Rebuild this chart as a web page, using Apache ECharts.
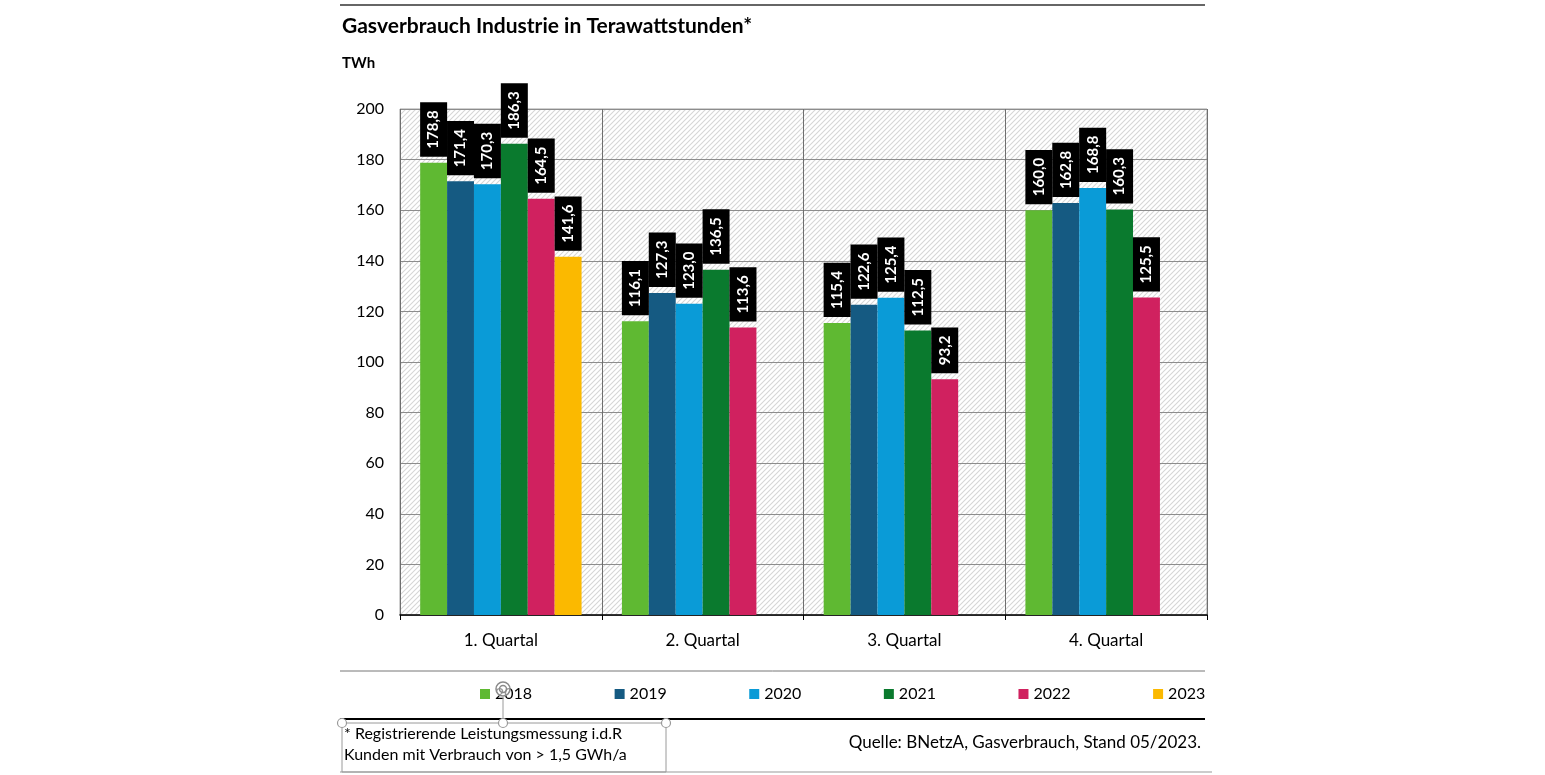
<!DOCTYPE html>
<html><head><meta charset="utf-8">
<script src="https://cdn.jsdelivr.net/npm/echarts@6/dist/echarts.min.js"></script>
<style>html,body{margin:0;padding:0;background:#fff}#c{width:1545px;height:775px}</style>
</head><body><div id="c"></div>
<script>
const categories = ['1. Quartal', '2. Quartal', '3. Quartal', '4. Quartal'];
const years = ['2018', '2019', '2020', '2021', '2022', '2023'];
const v2018 = [178.8, 116.1, 115.4, 160.0];
const v2019 = [171.4, 127.3, 122.6, 162.8];
const v2020 = [170.3, 123.0, 125.4, 168.8];
const v2021 = [186.3, 136.5, 112.5, 160.3];
const v2022 = [164.5, 113.6, 93.2, 125.5];
const v2023 = [141.6, null, null, null];
const yTicks = [0, 20, 40, 60, 80, 100, 120, 140, 160, 180, 200];
const colors = ['#5fb932', '#155a82', '#0a9bd7', '#0a7a2e', '#d0215f', '#fbb900'];
const seriesValues = [v2018, v2019, v2020, v2021, v2022, v2023];

const FONT = 'Lato, "Noto Sans", sans-serif';

// hatch pattern
const pc = document.createElement('canvas');
pc.width = 5; pc.height = 5;
const pctx = pc.getContext('2d');
pctx.fillStyle = '#ffffff'; pctx.fillRect(0, 0, 5, 5);
pctx.strokeStyle = '#d6d6d6'; pctx.lineWidth = 1.1;
pctx.beginPath();
pctx.moveTo(-1, 6); pctx.lineTo(6, -1);
pctx.moveTo(-1, 1); pctx.lineTo(1, -1);
pctx.moveTo(4, 6); pctx.lineTo(6, 4);
pctx.stroke();

const chart = echarts.init(document.getElementById('c'), null, {renderer: 'canvas'});

const series = years.map((y, i) => ({
  name: y,
  type: 'bar',
  data: seriesValues[i],
  itemStyle: {color: colors[i]},
  barGap: '0%',
  barCategoryGap: '20%',
  label: {
    show: true,
    position: 'top',
    distance: 6,
    rotate: 90,
    align: 'left',
    verticalAlign: 'middle',
    color: '#fff',
    backgroundColor: '#000',
    fontFamily: FONT,
    fontWeight: 'bold',
    fontSize: 15,
    lineHeight: 17,
    padding: [5, 8, 5, 8],
    formatter: p => p.value == null ? '' : p.value.toFixed(1).replace('.', ',')
  }
}));

const graphic = [
  {type: 'line', shape: {x1: 340, y1: 5, x2: 1205, y2: 5}, style: {stroke: '#333', lineWidth: 1.5}},
  {type: 'text', left: 342, top: 16, style: {text: 'Gasverbrauch Industrie in Terawattstunden*', font: 'bold 21px ' + FONT, fill: '#000'}},
  {type: 'text', left: 342, top: 56, style: {text: 'TWh', font: 'bold 15px ' + FONT, fill: '#000'}},
  {type: 'line', shape: {x1: 340, y1: 671, x2: 1205, y2: 671}, style: {stroke: '#777', lineWidth: 1}},
  {type: 'line', shape: {x1: 340, y1: 719, x2: 1205, y2: 719}, style: {stroke: '#000', lineWidth: 2}},
  {type: 'line', shape: {x1: 340, y1: 772, x2: 1212, y2: 772}, style: {stroke: '#999', lineWidth: 1}},
  {type: 'rect', shape: {x: 342, y: 723, width: 324, height: 49}, style: {fill: 'none', stroke: '#9a9a9a', lineWidth: 1}},
  {type: 'line', shape: {x1: 503, y1: 697, x2: 503, y2: 718}, style: {stroke: '#9a9a9a', lineWidth: 1}, z: 100},
  {type: 'circle', shape: {cx: 342, cy: 723, r: 4.5}, style: {fill: '#fff', stroke: '#9a9a9a', lineWidth: 1.2}, z: 100},
  {type: 'circle', shape: {cx: 503, cy: 723, r: 4.5}, style: {fill: '#fff', stroke: '#9a9a9a', lineWidth: 1.2}, z: 100},
  {type: 'circle', shape: {cx: 666, cy: 723, r: 4.5}, style: {fill: '#fff', stroke: '#9a9a9a', lineWidth: 1.2}, z: 100},
  {type: 'circle', shape: {cx: 503, cy: 689, r: 7}, style: {fill: 'rgba(255,255,255,0.6)', stroke: '#8a8a8a', lineWidth: 1.5}, z: 100},
  {type: 'circle', shape: {cx: 503, cy: 689, r: 3.5}, style: {fill: 'none', stroke: '#8a8a8a', lineWidth: 1.5}, z: 100},
  {type: 'text', left: 344, top: 726, style: {text: '* Registrierende Leistungsmessung i.d.R', font: '16px ' + FONT, fill: '#000'}},
  {type: 'text', left: 344, top: 747, style: {text: 'Kunden mit Verbrauch von > 1,5 GWh/a', font: '16px ' + FONT, fill: '#000'}},
  {type: 'text', right: 1545 - 1201, top: 734, style: {text: 'Quelle: BNetzA, Gasverbrauch, Stand 05/2023.', font: '17px ' + FONT, fill: '#000', textAlign: 'right'}}
];

chart.setOption({
  animation: false,
  backgroundColor: '#fff',
  textStyle: {fontFamily: FONT},
  grid: {
    left: 400, top: 109, width: 807, height: 506,
    show: true,
    backgroundColor: {image: pc, repeat: 'repeat'},
    borderColor: '#a0a0a0', borderWidth: 1
  },
  legend: {
    data: years,
    left: 475, top: 681,
    itemWidth: 10, itemHeight: 10,
    itemGap: 82.5,
    icon: 'rect',
    textStyle: {fontFamily: FONT, fontSize: 16, color: '#000'}
  },
  xAxis: {
    type: 'category',
    data: categories,
    axisLine: {lineStyle: {color: '#000', width: 1.5}},
    axisTick: {show: true, length: 5, lineStyle: {color: '#000'}},
    axisLabel: {fontFamily: FONT, fontSize: 17, color: '#000', margin: 17},
    splitLine: {show: true, lineStyle: {color: '#6e6e6e', width: 1}}
  },
  yAxis: {
    type: 'value',
    min: yTicks[0], max: yTicks[yTicks.length - 1], interval: 20,
    axisLine: {show: false},
    axisTick: {show: false},
    axisLabel: {fontFamily: FONT, fontSize: 16, color: '#000', margin: 16},
    splitLine: {show: true, lineStyle: {color: '#8c8c8c', width: 1}}
  },
  series: series,
  graphic: graphic
});
</script>
</body></html>
